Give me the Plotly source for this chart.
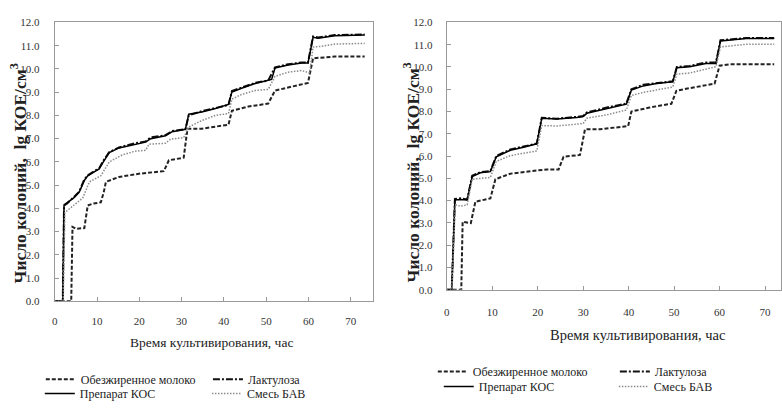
import plotly.graph_objects as go

# ---------------- data ----------------
SERIES = ["Обезжиренное молоко", "Лактулоза", "Препарат КОС", "Смесь БАВ"]

# Left panel
L_MILK_T = [0, 3.9, 4.2, 5, 7.0, 7.8, 9, 10.9, 11.6, 12.1, 15.2, 19.9, 25.8, 27.0, 30.5, 31.4, 34.8, 39.5, 41.1, 41.9, 45.8, 50.5, 52.1, 55.2, 59.9, 61.1, 63, 66.2, 73.3]
L_MILK_Y = [0, 0, 3.2, 3.12, 3.15, 4.12, 4.2, 4.26, 4.7, 5.14, 5.35, 5.49, 5.6, 6.07, 6.18, 7.43, 7.43, 7.57, 7.6, 8.2, 8.38, 8.51, 9.07, 9.2, 9.4, 10.46, 10.49, 10.53, 10.53]

L_LACT_T = [0, 1.9, 2.2, 3, 4.5, 5.8, 7, 7.8, 9.5, 10.5, 11.5, 12.9, 15.2, 19, 21.5, 22.7, 26.2, 27.8, 30.9, 31.7, 34.8, 38, 41.1, 41.9, 44.2, 47.4, 50.5, 52.1, 55.2, 58.4, 59.9, 61.1, 62.3, 66.2, 73.3]
L_LACT_Y = [0, 0, 4.12, 4.22, 4.48, 4.72, 5.25, 5.42, 5.62, 5.72, 6.05, 6.42, 6.62, 6.8, 6.88, 7.05, 7.15, 7.33, 7.4, 8.0, 8.18, 8.33, 8.45, 9.05, 9.2, 9.4, 9.5, 10.07, 10.2, 10.28, 10.27, 11.4, 11.35, 11.46, 11.48]

L_KOS_T = [0, 1.9, 2.2, 3, 4.5, 5.8, 7, 7.8, 9.5, 10.5, 11.5, 12.9, 15.2, 19, 21.5, 22.7, 26.2, 27.8, 30.9, 31.7, 34.8, 38, 41.1, 41.9, 44.2, 47.4, 50.5, 51.3, 52.1, 55.2, 58.4, 59.9, 61.1, 62.3, 66.2, 73.3]
L_KOS_Y = [0, 0, 4.15, 4.25, 4.45, 4.7, 5.2, 5.4, 5.6, 5.7, 6.0, 6.4, 6.6, 6.76, 6.85, 7.0, 7.12, 7.3, 7.4, 8.05, 8.15, 8.3, 8.47, 9.0, 9.17, 9.37, 9.5, 9.55, 10.04, 10.17, 10.25, 10.25, 11.36, 11.32, 11.43, 11.46]

L_BAV_T = [0, 2.0, 2.4, 4, 5.5, 6.6, 8.2, 10.9, 12.9, 16, 19, 21.5, 22.3, 26.2, 27.4, 30.5, 31.7, 34.8, 38, 41.1, 41.9, 44.2, 47.4, 50.5, 52.1, 55.2, 58.4, 60.3, 61.1, 63, 66.2, 73.3]
L_BAV_Y = [0, 0, 3.82, 4.05, 4.3, 4.44, 5.14, 5.4, 6.0, 6.3, 6.46, 6.5, 6.76, 6.8, 6.98, 7.04, 7.5, 7.78, 8.0, 8.08, 8.7, 8.9, 9.07, 9.12, 9.68, 9.86, 9.93, 9.83, 10.94, 10.97, 11.07, 11.1]

# Right panel
R_MILK_T = [0, 3.2, 3.5, 5.3, 6.3, 9.6, 10.7, 14, 18.4, 22, 24.6, 25.7, 29.3, 30.4, 33.7, 38.8, 39.9, 40.6, 44.6, 49.4, 50.5, 53.4, 58.9, 60, 62.1, 72]
R_MILK_Y = [0, 0, 3.05, 2.99, 3.95, 4.1, 4.96, 5.21, 5.32, 5.4, 5.4, 5.97, 6.05, 7.2, 7.2, 7.32, 7.35, 8.0, 8.18, 8.35, 8.93, 9.05, 9.25, 10.06, 10.12, 10.12]

R_LACT_T = [0, 1.1, 1.8, 3.1, 4.5, 5.6, 7.4, 9.6, 10.9, 14, 16.9, 19.8, 20.9, 24.2, 28.6, 30, 30.8, 35.2, 39.5, 40.6, 43.2, 46.1, 49.7, 50.6, 53.4, 57, 59.2, 60.2, 62.1, 65.8, 72]
R_LACT_Y = [0, 0, 4.08, 4.1, 4.05, 5.12, 5.28, 5.33, 6.0, 6.3, 6.43, 6.56, 7.72, 7.68, 7.76, 7.8, 7.96, 8.18, 8.36, 9.0, 9.2, 9.28, 9.36, 10.0, 10.05, 10.2, 10.2, 11.2, 11.24, 11.3, 11.3]

R_KOS_T = [0, 1.1, 1.8, 3.1, 4.5, 5.6, 7.4, 9.6, 10.9, 14, 16.9, 19.8, 20.9, 24.2, 28.6, 30, 30.8, 35.2, 39.5, 40.6, 43.2, 46.1, 49.7, 50.6, 53.4, 57, 59.2, 60.2, 62.1, 65.8, 72]
R_KOS_Y = [0, 0, 4.03, 4.05, 4.03, 5.08, 5.25, 5.3, 5.97, 6.26, 6.4, 6.55, 7.7, 7.66, 7.73, 7.78, 7.92, 8.14, 8.33, 8.96, 9.15, 9.26, 9.34, 9.97, 10.01, 10.16, 10.16, 11.17, 11.2, 11.28, 11.28]

R_BAV_T = [0, 1.1, 1.9, 3, 4.5, 5.6, 9.6, 10.9, 14, 19.8, 20.9, 24.2, 30, 30.8, 35.2, 39.5, 40.6, 43.2, 49.7, 50.6, 53.4, 59.2, 60.2, 62.1, 65.8, 72]
R_BAV_Y = [0, 0, 3.81, 3.75, 3.81, 4.96, 5.04, 5.76, 6.02, 6.23, 7.37, 7.35, 7.46, 7.7, 7.85, 8.07, 8.72, 8.86, 9.1, 9.68, 9.73, 10.01, 10.9, 10.95, 11.02, 11.02]

X_TICKS = [0, 10, 20, 30, 40, 50, 60, 70]
Y_TICKS = [0, 1, 2, 3, 4, 5, 6, 7, 8, 9, 10, 11, 12]
X_TITLE = "Время культивирования, час"
Y_TITLE = "<b>Число колоний,  lg КОЕ/см<sup>3</sup></b>"

# ---------------- styling ----------------
W, H = 782, 408
SERIF = "Liberation Serif"
STYLES = {
    "Обезжиренное молоко": dict(color="#222222", width=2.0, dash="4px,2px"),
    "Лактулоза": dict(color="#111111", width=2.0, dash="7px,2px,2px,2px"),
    "Препарат КОС": dict(color="#000000", width=1.5, dash="solid"),
    "Смесь БАВ": dict(color="#8a8a8a", width=1.5, dash="1.5px,1.5px"),
}

def px_x(p):
    return p / W

def px_y(p):
    return 1 - p / H

panels = [
    dict(xa="x", ya="y",
         data=[(L_MILK_T, L_MILK_Y), (L_LACT_T, L_LACT_Y), (L_KOS_T, L_KOS_Y), (L_BAV_T, L_BAV_Y)],
         legends=["legend2", "legend3", "legend4", "legend5"],
         leg_pos=[(38, 385.5), (206, 385.5), (37, 400.5), (205, 400.5)]),
    dict(xa="x2", ya="y2",
         data=[(R_MILK_T, R_MILK_Y), (R_LACT_T, R_LACT_Y), (R_KOS_T, R_KOS_Y), (R_BAV_T, R_BAV_Y)],
         legends=["legend6", "legend7", "legend8", "legend9"],
         leg_pos=[(432, 377.5), (615, 377.5), (438, 393), (614, 393)]),
]

fig = go.Figure()
layout_legends = {}
for p in panels:
    for name, (t, y), lg, (lx, ly) in zip(SERIES, p["data"], p["legends"], p["leg_pos"]):
        fig.add_trace(go.Scatter(x=t, y=y, mode="lines", name=name,
                                 line=STYLES[name], xaxis=p["xa"], yaxis=p["ya"],
                                 legend=lg, showlegend=True))
        layout_legends[lg] = dict(x=px_x(lx), y=px_y(ly), xanchor="left", yanchor="middle",
                                  bgcolor="rgba(0,0,0,0)", borderwidth=0,
                                  font=dict(family=SERIF, size=12, color="#222"))

axis_common = dict(showgrid=False, zeroline=False, showline=True, linecolor="#999",
                   linewidth=1, mirror=True, ticks="inside", ticklen=4, tickcolor="#999",
                   tickfont=dict(family=SERIF, size=11, color="#333"))

fig.update_layout(
    width=W, height=H,
    margin=dict(l=0, r=0, t=0, b=0),
    paper_bgcolor="white", plot_bgcolor="white",
    font=dict(family=SERIF),
    showlegend=True,
    xaxis=dict(domain=[px_x(52), px_x(372)], range=[0, 75.3], tickvals=X_TICKS,
               anchor="y", ticklabelstandoff=10, **axis_common),
    yaxis=dict(domain=[px_y(305), px_y(17)], range=[0, 12], tickvals=Y_TICKS,
               tickformat=".1f", anchor="x", ticklabelstandoff=12, **axis_common),
    xaxis2=dict(domain=[px_x(446), 1.0], range=[0, 73.5], tickvals=X_TICKS,
                anchor="y2", ticklabelstandoff=12, **axis_common),
    yaxis2=dict(domain=[px_y(293), px_y(17)], range=[0, 12], tickvals=Y_TICKS,
                tickformat=".1f", anchor="x2", ticklabelstandoff=11, **axis_common),
    **layout_legends,
)

annos = [
    dict(text=X_TITLE, x=px_x(210), y=px_y(348), size=13.5),
    dict(text=X_TITLE, x=px_x(638), y=px_y(340), size=14.5),
    dict(text=Y_TITLE, x=px_x(16), y=px_y(173), textangle=-90, size=17.5),
    dict(text=Y_TITLE, x=px_x(410), y=px_y(172), textangle=-90, size=17.5),
]
for a in annos:
    fig.add_annotation(text=a["text"], x=a["x"], y=a["y"], xref="paper", yref="paper",
                       xanchor="center", yanchor="middle", showarrow=False,
                       textangle=a.get("textangle", 0),
                       font=dict(family=SERIF, size=a["size"], color="#222"))

fig.write_html("out.html")
